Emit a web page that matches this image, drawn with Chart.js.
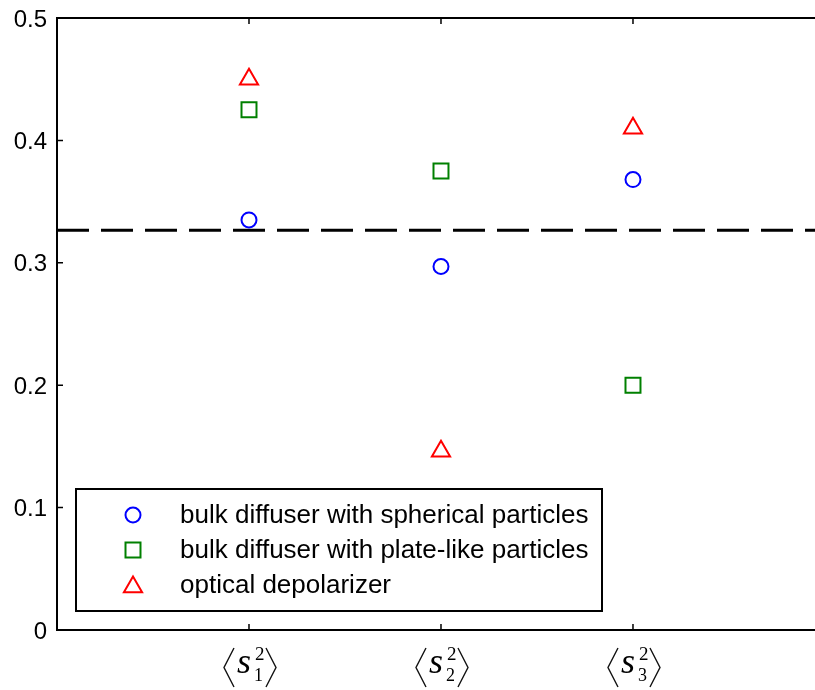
<!DOCTYPE html>
<html>
<head>
<meta charset="utf-8">
<script src="https://cdn.jsdelivr.net/npm/chart.js@4/dist/chart.umd.min.js"></script>
<style>
  html, body { margin: 0; padding: 0; background: #fff; }
  #wrap { width: 815px; height: 690px; }
</style>
</head>
<body>
<div id="wrap"><canvas id="chart" width="815" height="690"></canvas></div>
<script>
// second moments of the Stokes parameters, one column per <s_i^2>
const categories = [1, 2, 3];
const subscripts = ["1", "2", "3"];
const spherical = [0.335, 0.297, 0.368];
const plateLike = [0.425, 0.375, 0.2];
const depolarizer = [0.45, 0.146, 0.41];
const referenceLevel = 0.3265;
const yTicks = [0, 0.1, 0.2, 0.3, 0.4, 0.5];
const yTickLabels = ["0", "0.1", "0.2", "0.3", "0.4", "0.5"];
const seriesNames = [
  "bulk diffuser with spherical particles",
  "bulk diffuser with plate-like particles",
  "optical depolarizer"
];

// visible x range; the axes run on past the right edge of the canvas
const X_MAX = 3.948;
// wanted plot box inside the 815x690 canvas
const AREA = { left: 57, top: 18, right: 815, bottom: 630 };

function points(values) {
  return values.map((v, i) => ({ x: categories[i], y: v }));
}

// hollow marker, same geometry as chart.js point styles
function marker(ctx, style, r, x, y, color) {
  ctx.save();
  ctx.strokeStyle = color;
  ctx.lineWidth = 2;
  ctx.beginPath();
  if (style === "circle") {
    ctx.arc(x, y, r, 0, Math.PI * 2);
  } else if (style === "rect") {
    const s = Math.SQRT1_2 * r;
    ctx.rect(x - s, y - s, 2 * s, 2 * s);
  } else {
    const w = r * Math.sin(Math.PI / 3);
    ctx.moveTo(x, y - r);
    ctx.lineTo(x + w, y + r / 2);
    ctx.lineTo(x - w, y + r / 2);
    ctx.closePath();
  }
  ctx.stroke();
  ctx.restore();
}

const frame = {
  id: "frame",
  afterDraw(chart) {
    const ctx = chart.ctx;
    const a = chart.chartArea;
    const xs = chart.scales.x;
    const ys = chart.scales.y;
    ctx.save();
    ctx.strokeStyle = "#000";
    ctx.lineWidth = 2;
    ctx.beginPath();
    ctx.moveTo(a.left, a.top);
    ctx.lineTo(chart.width, a.top);
    ctx.moveTo(a.left, a.top - 1);
    ctx.lineTo(a.left, a.bottom + 1);
    ctx.moveTo(a.left, a.bottom);
    ctx.lineTo(chart.width, a.bottom);
    ctx.stroke();

    // inward ticks
    ctx.lineWidth = 1.5;
    ctx.beginPath();
    yTicks.forEach(v => {
      const py = ys.getPixelForValue(v);
      ctx.moveTo(a.left, py);
      ctx.lineTo(a.left + 6, py);
    });
    categories.forEach(c => {
      const px = xs.getPixelForValue(c);
      ctx.moveTo(px, a.bottom);
      ctx.lineTo(px, a.bottom - 6);
      ctx.moveTo(px, a.top);
      ctx.lineTo(px, a.top + 6);
    });
    ctx.stroke();

    // y tick labels
    ctx.fillStyle = "#000";
    ctx.font = "24px 'Liberation Sans', Arial, sans-serif";
    ctx.textAlign = "right";
    ctx.textBaseline = "middle";
    yTicks.forEach((v, i) => {
      ctx.fillText(yTickLabels[i], a.left - 10, ys.getPixelForValue(v) + 2);
    });

    // category labels <s_i^2>
    categories.forEach((c, i) => {
      const cx = xs.getPixelForValue(c);
      ctx.strokeStyle = "#111";
      ctx.lineWidth = 1.4;
      ctx.beginPath();
      ctx.moveTo(cx - 15, 648);
      ctx.lineTo(cx - 25, 667.5);
      ctx.lineTo(cx - 15, 687);
      ctx.moveTo(cx + 17, 648);
      ctx.lineTo(cx + 27, 667.5);
      ctx.lineTo(cx + 17, 687);
      ctx.stroke();
      ctx.fillStyle = "#000";
      ctx.textAlign = "left";
      ctx.textBaseline = "alphabetic";
      ctx.font = "italic 36px 'Liberation Serif'";
      ctx.fillText("s", cx - 12, 673);
      ctx.font = "19px 'Liberation Serif'";
      ctx.fillText("2", cx + 6, 660);
      ctx.font = "18px 'Liberation Serif'";
      ctx.fillText(subscripts[i], cx + 5, 681);
    });

    // legend box
    const lx = a.left + 19, ly = 489, lw = 526, lh = 122;
    ctx.fillStyle = "#fff";
    ctx.fillRect(lx, ly, lw, lh);
    ctx.strokeStyle = "#000";
    ctx.lineWidth = 2;
    ctx.strokeRect(lx, ly, lw, lh);
    const styles = [["circle", 7.5, "#0000ff"], ["rect", 10.6, "#008000"], ["triangle", 10.5, "#ff0000"]];
    ctx.font = "26px 'Liberation Sans', Arial, sans-serif";
    ctx.textAlign = "left";
    ctx.textBaseline = "middle";
    ctx.fillStyle = "#000";
    seriesNames.forEach((name, i) => {
      const ry = ly + 26 + i * 35;
      const [st, r, col] = styles[i];
      marker(ctx, st, r, lx + 57, st === "triangle" ? ry + 2 : ry, col);
      ctx.fillText(name, lx + 104, ry + 1);
    });
    ctx.restore();
  }
};

const chart = new Chart(document.getElementById("chart"), {
  type: "scatter",
  data: {
    datasets: [
      {
        label: seriesNames[0],
        data: points(spherical),
        pointStyle: "circle",
        pointRadius: 7.5,
        pointBorderWidth: 2,
        borderColor: "#0000ff",
        backgroundColor: "rgba(0,0,0,0)"
      },
      {
        label: seriesNames[1],
        data: points(plateLike),
        pointStyle: "rect",
        pointRadius: 10.6,
        pointBorderWidth: 2,
        borderColor: "#008000",
        backgroundColor: "rgba(0,0,0,0)"
      },
      {
        label: seriesNames[2],
        data: points(depolarizer),
        pointStyle: "triangle",
        pointRadius: 10.5,
        pointBorderWidth: 2,
        borderColor: "#ff0000",
        backgroundColor: "rgba(0,0,0,0)"
      },
      {
        type: "line",
        label: "reference",
        data: [{ x: 0, y: referenceLevel }, { x: X_MAX, y: referenceLevel }],
        borderColor: "#000",
        borderWidth: 3,
        borderDash: [32, 12],
        pointRadius: 0,
        clip: false,
        order: 10
      }
    ]
  },
  options: {
    responsive: false,
    animation: false,
    devicePixelRatio: 1,
    layout: { padding: { top: 18, right: 0, left: 0, bottom: 0 } },
    plugins: {
      legend: { display: false },
      tooltip: { enabled: false }
    },
    scales: {
      x: {
        type: "linear",
        min: 0,
        max: X_MAX,
        grid: { display: false },
        border: { display: false },
        ticks: { display: false },
        afterFit(scale) { scale.height = 60; }
      },
      y: {
        min: 0,
        max: 0.5,
        grid: { display: false, drawTicks: false },
        border: { display: false },
        ticks: { display: false },
        afterFit(scale) { scale.width = 57; }
      }
    }
  },
  plugins: [frame]
});

// fix the plot box position; if the right edge stays short, shrink the
// x range so the category spacing still matches the full-width box
for (let k = 0; k < 3; k++) {
  const ca = chart.chartArea;
  const p = chart.options.layout.padding;
  chart.options.layout.padding = {
    top: p.top + (AREA.top - ca.top),
    left: p.left + (AREA.left - ca.left),
    right: Math.max(0, p.right + (ca.right - AREA.right)),
    bottom: p.bottom + (ca.bottom - AREA.bottom)
  };
  chart.options.scales.x.max = X_MAX * (ca.right - ca.left) / (AREA.right - AREA.left);
  chart.update();
}
</script>
</body>
</html>
